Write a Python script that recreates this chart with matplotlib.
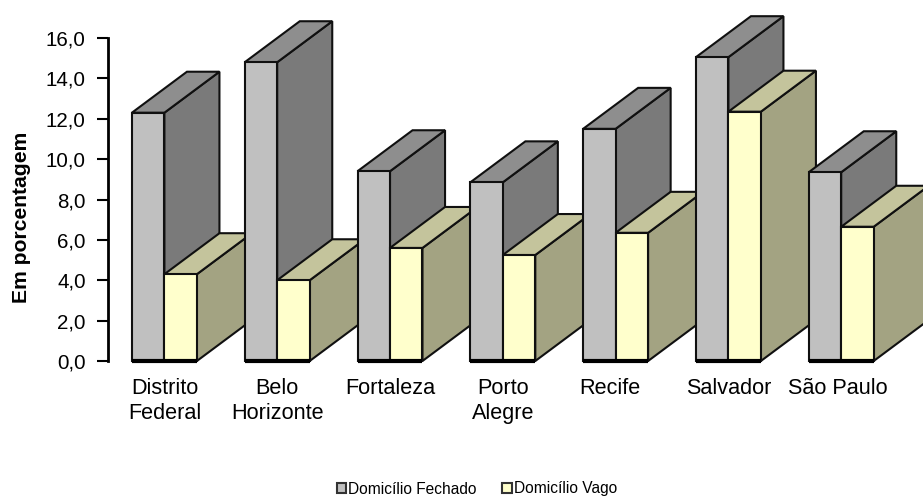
import matplotlib
matplotlib.use("Agg")
import matplotlib.pyplot as plt
from matplotlib.patches import Patch
from matplotlib.transforms import ScaledTranslation

plt.rcParams['font.family'] = ['Liberation Sans', 'DejaVu Sans']

categories = ['Distrito\nFederal', 'Belo\nHorizonte', 'Fortaleza', 'Porto\nAlegre', 'Recife', 'Salvador', 'São Paulo']
fechado = [12.3, 14.8, 9.4, 8.85, 11.5, 15.05, 9.35]
vago = [4.3, 4.0, 5.6, 5.25, 6.35, 12.35, 6.65]
yticks = [0, 2, 4, 6, 8, 10, 12, 14, 16]

W, H = 923, 497
BAR_W = 0.288
DEPTH_X = 0.488
DEPTH_Y = 2.03
EDGE = '#101010'

fig = plt.figure(figsize=(W / 100, H / 100), dpi=100)
ax = fig.add_axes([108 / W, 1 - 361 / H, 789.6 / W, 323 / H])
ax.set_xlim(-0.5, 6.5)
ax.set_ylim(0, 16)
ax.patch.set_alpha(0)


def box(x0, x1, v, front, top, side):
    kw = dict(edgecolor=EDGE, linewidth=1.5, clip_on=False, joinstyle='miter')
    ax.fill([x1, x1 + DEPTH_X, x1 + DEPTH_X, x1],
            [0, DEPTH_Y, v + DEPTH_Y, v], facecolor=side, **kw)
    ax.fill([x0, x1, x1 + DEPTH_X, x0 + DEPTH_X],
            [v, v, v + DEPTH_Y, v + DEPTH_Y], facecolor=top, **kw)
    ax.fill([x0, x1, x1, x0], [0, 0, v, v], facecolor=front, **kw)
    ax.plot([x0, x1], [0, 0], color='black', lw=3, clip_on=False, solid_capstyle='butt')


for i, (f, v) in enumerate(zip(fechado, vago)):
    box(i - BAR_W, i, f, '#C0C0C0', '#8E8E8E', '#7A7A7A')
    box(i, i + BAR_W, v, '#FFFFCC', '#C4C49C', '#A3A382')

for s in ['top', 'right', 'bottom']:
    ax.spines[s].set_visible(False)
ax.spines['left'].set_linewidth(2)
ax.set_yticks(yticks)
ax.set_yticklabels([f'{t:.1f}'.replace('.', ',') for t in yticks], fontsize=14.8)
ax.tick_params(axis='y', length=8, width=1.5, pad=8)
ax.set_xticks(range(len(categories)))
ax.set_xticklabels(categories, fontsize=15.6, linespacing=1.22)
ax.tick_params(axis='x', length=0, pad=12.5)
label_nudge_px = [0, 0, 0, 0, -6, 0, -3]
for lbl, dx in zip(ax.get_xticklabels(), label_nudge_px):
    lbl.set_transform(lbl.get_transform() + ScaledTranslation(dx / 100, 0, fig.dpi_scale_trans))
fig.text(22 / W, 1 - 217 / H, 'Em porcentagem', rotation=90, ha='center', va='center',
         fontsize=15.2, fontweight='bold')

handles = [Patch(facecolor='#C0C0C0', edgecolor='#333333', lw=1.5),
           Patch(facecolor='#FFFFCC', edgecolor='#333333', lw=1.5)]
fig.legend(handles, ['Domicílio Fechado', 'Domicílio Vago'], loc='center',
           bbox_to_anchor=(477 / W, 1 - 489 / H), ncol=2, frameon=False, fontsize=11.2,
           handlelength=0.6, handleheight=0.6, handletextpad=0.15, columnspacing=1.65)

fig.savefig('out.png', dpi=100)
